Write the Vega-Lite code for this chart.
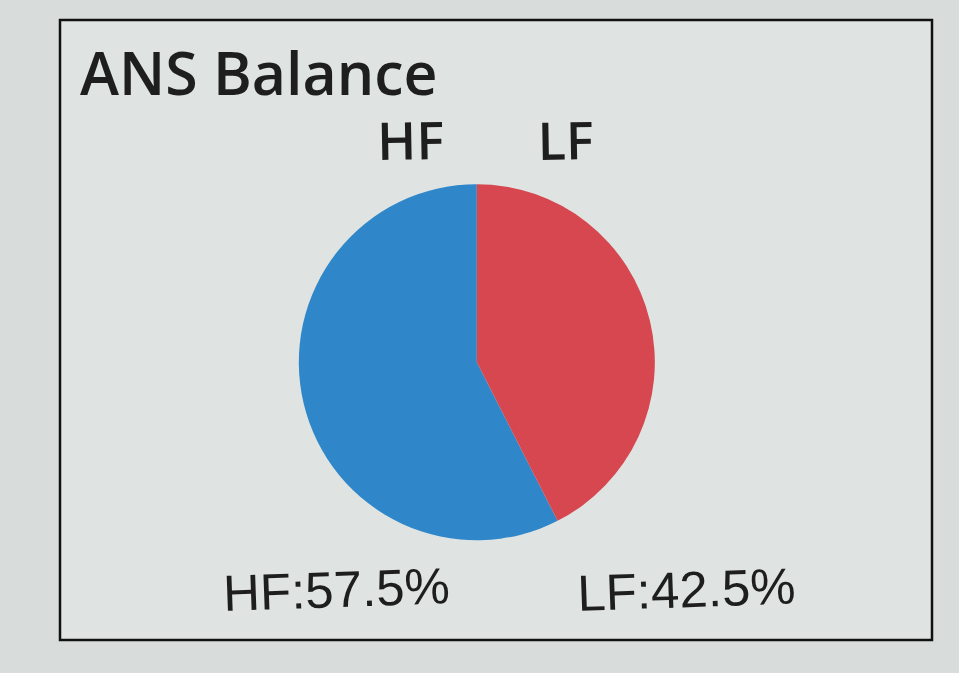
{
  "$schema": "https://vega.github.io/schema/vega-lite/v6.json",
  "width": 872,
  "height": 620,
  "autosize": {"type": "none"},
  "padding": {"left": 60, "top": 20, "right": 27, "bottom": 33},
  "background": "#d8dddc",
  "config": {
    "view": {"stroke": "#111111", "strokeWidth": 2.5, "fill": "#dfe4e3"},
    "font": "Liberation Sans"
  },
  "title": {
    "text": "ANS Balance",
    "anchor": "start",
    "frame": "group",
    "orient": "top",
    "font": "Open Sans",
    "fontSize": 59,
    "fontWeight": 600,
    "color": "#1e1e1e",
    "baseline": "alphabetic",
    "offset": -57,
    "dx": 20,
    "dy": 77
  },
  "data": {
    "values": [
      {"band": "HF", "share": 57.5},
      {"band": "LF", "share": 42.5}
    ]
  },
  "transform": [
    {"calculate": "datum.band + ':' + datum.share + '%'", "as": "label"}
  ],
  "layer": [
    {
      "mark": {"type": "arc", "outerRadius": 178, "x": {"expr": "width*0.478"}, "y": {"expr": "height*0.552"}},
      "encoding": {
        "theta": {"field": "share", "type": "quantitative", "stack": true},
        "order": {"field": "band", "sort": "descending"},
        "color": {
          "field": "band",
          "type": "nominal",
          "scale": {"domain": ["HF", "LF"], "range": ["#2f87c9", "#d6474f"]},
          "legend": null
        }
      }
    },
    {
      "mark": {"type": "text", "fontSize": 52, "font": "Open Sans", "fontWeight": 600, "color": "#1e1e1e", "baseline": "alphabetic", "y": {"expr": "height*0.225"}, "angle": -1},
      "encoding": {
        "x": {"field": "band", "type": "nominal", "sort": ["HF", "LF"], "axis": null, "scale": {"type": "point", "padding": 0, "range": [{"expr": "width*0.4025"}, {"expr": "width*0.5803"}]}},
        "text": {"field": "band"}
      }
    },
    {
      "mark": {"type": "text", "fontSize": 51, "color": "#1e1e1e", "baseline": "alphabetic", "y": {"expr": "height*0.947"}, "angle": -2},
      "encoding": {
        "x": {"field": "band", "type": "nominal", "sort": ["HF", "LF"], "axis": null, "scale": {"type": "point", "padding": 0, "range": [{"expr": "width*0.3177"}, {"expr": "width*0.719"}]}},
        "text": {"field": "label"}
      }
    }
  ],
  "resolve": {"scale": {"x": "independent"}}
}
